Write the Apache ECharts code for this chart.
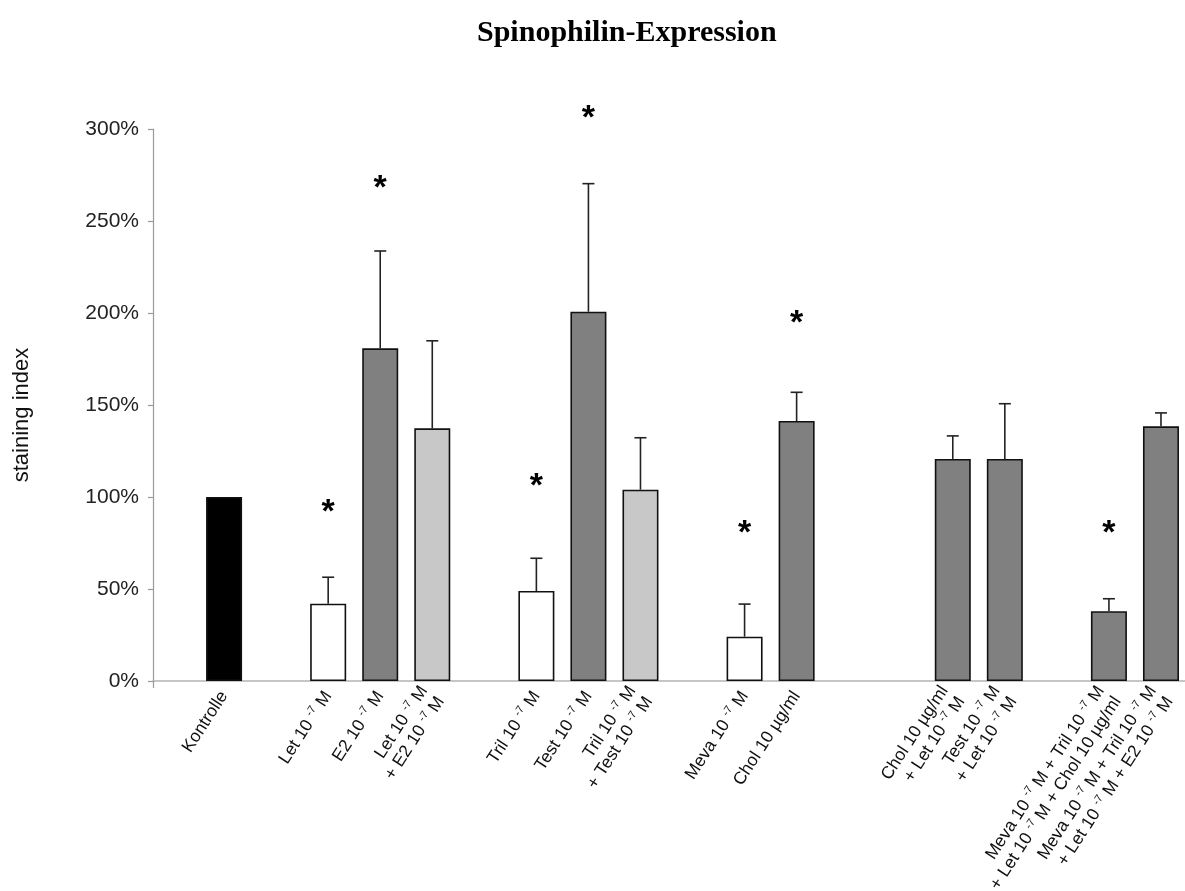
<!DOCTYPE html>
<html>
<head>
<meta charset="utf-8">
<script src="https://cdn.jsdelivr.net/npm/echarts@6/dist/echarts.min.js"></script>
<style>html,body{margin:0;padding:0;background:#fff}#c{width:1185px;height:891px}</style>
</head>
<body>
<div id="c"></div>
<script>
const categories = ['', 'Kontrolle', '', 'Let 10 ^-7 M', 'E2 10 ^-7 M', 'Let 10 ^-7 M\n+ E2 10 ^-7 M', '',
  'Tril 10 ^-7 M', 'Test 10 ^-7 M', 'Tril 10 ^-7 M\n+ Test 10 ^-7 M', '', 'Meva 10 ^-7 M', 'Chol 10 µg/ml', '', '',
  'Chol 10 µg/ml\n+ Let 10 ^-7 M', 'Test 10 ^-7 M\n+ Let 10 ^-7 M', '',
  'Meva 10 ^-7 M + Tril 10 ^-7 M\n+ Let 10 ^-7 M + Chol 10 µg/ml',
  'Meva 10 ^-7 M + Tril 10 ^-7 M\n+ Let 10 ^-7 M + E2 10 ^-7 M'];
const values = [null, 100, null, 42.0, 180.8, 137.3, null, 48.9, 200.7, 104.0, null, 24.1, 141.3, null, null, 120.7, 120.7, null, 37.9, 138.4];
const errorTop = [null, null, null, 56.4, 233.7, 184.9, null, 66.7, 270.3, 132.2, null, 41.8, 156.9, null, null, 133.2, 150.7, null, 44.7, 145.7];
const starY = [null, null, null, 94.6, 270.7, null, null, 109, 308.7, null, null, 83.5, 197.4, null, null, null, null, null, 83.2, null];
const fills = ['', '#000000', '', '#ffffff', '#808080', '#c8c8c8', '', '#ffffff', '#808080', '#c8c8c8', '', '#ffffff', '#808080', '', '', '#808080', '#808080', '', '#808080', '#808080'];
const yTicks = [0, 50, 100, 150, 200, 250, 300];

const chart = echarts.init(document.getElementById('c'));
const gridTop = 129, gridBottom = 210;

chart.setOption({
  animation: false,
  backgroundColor: '#ffffff',
  title: {
    text: 'Spinophilin-Expression',
    left: 472, top: 13,
    textStyle: { fontFamily: 'Liberation Serif', fontWeight: 'bold', fontSize: 30, color: '#000' }
  },
  grid: [
    { left: 146, right: -2, top: gridTop, bottom: gridBottom, containLabel: false, outerBoundsMode: 'none' },
    { left: 153, right: -2, top: gridTop, bottom: gridBottom, containLabel: false, outerBoundsMode: 'none' }
  ],
  xAxis: [
    {
      type: 'category', gridIndex: 0, data: categories,
      axisLine: { show: false }, axisTick: { show: false },
      axisLabel: {
        interval: 0, rotate: 57, margin: 12,
        fontFamily: 'Liberation Sans', fontSize: 17.5, color: '#111',
        formatter: function (v) {
          return v.split('\n').map(function (line) {
            return line.split('^-7').map(function (p) { return '{n|' + p + '}'; }).join('{sup|-7}');
          }).join('\n');
        },
        rich: {
          n: { fontFamily: 'Liberation Sans', fontSize: 17.5, color: '#111', lineHeight: 20 },
          sup: { fontFamily: 'Liberation Sans', fontSize: 11, color: '#111', verticalAlign: 'top', lineHeight: 20, padding: [0, 0, 8, 0] }
        }
      }
    },
    {
      type: 'value', gridIndex: 1, min: 0, max: 1, interval: 1,
      axisLine: { show: true, lineStyle: { color: '#b4b4b4', width: 1.5 } },
      axisTick: { show: true, length: 7, lineStyle: { color: '#9a9a9a', width: 1.2 } },
      axisLabel: { show: false }, splitLine: { show: false }
    }
  ],
  yAxis: [
    { type: 'value', gridIndex: 0, min: 0, max: 300, interval: 50, show: false },
    {
      type: 'value', gridIndex: 1, min: 0, max: 300, interval: 50,
      name: 'staining index', nameLocation: 'middle', nameRotate: 90, nameGap: 120,
      nameTextStyle: { fontFamily: 'Liberation Sans', fontSize: 22, color: '#111', padding: [0, 20, 0, 0] },
      axisLine: { show: true, lineStyle: { color: '#9a9a9a', width: 1.2 } },
      axisTick: { show: true, inside: false, length: 5, lineStyle: { color: '#9a9a9a', width: 1.2 } },
      splitLine: { show: false },
      axisLabel: {
        margin: 14, fontFamily: 'Liberation Sans', fontSize: 21, color: '#222',
        formatter: function (v) { return yTicks.indexOf(v) >= 0 ? v + '%' : ''; }
      }
    }
  ],
  series: [
    {
      type: 'bar', xAxisIndex: 0, yAxisIndex: 0, barWidth: 36,
      data: values.map(function (v, i) {
        return { value: v, itemStyle: { color: fills[i] || '#808080', borderColor: '#111', borderWidth: 1.6 } };
      })
    },
    {
      type: 'custom', xAxisIndex: 0, yAxisIndex: 0, z: 3,
      data: errorTop.map(function (t, i) { return [i, values[i], t]; }),
      renderItem: function (params, api) {
        const t = api.value(2);
        if (t === null || t === undefined || isNaN(t)) return null;
        const p0 = api.coord([api.value(0), api.value(1)]);
        const p1 = api.coord([api.value(0), t]);
        const st = { stroke: '#222', lineWidth: 1.6 };
        return {
          type: 'group',
          children: [
            { type: 'line', shape: { x1: p0[0], y1: p0[1], x2: p1[0], y2: p1[1] }, style: st },
            { type: 'line', shape: { x1: p1[0] - 6, y1: p1[1], x2: p1[0] + 6, y2: p1[1] }, style: st }
          ]
        };
      }
    },
    {
      type: 'custom', xAxisIndex: 0, yAxisIndex: 0, z: 4, clip: false,
      data: starY.map(function (s, i) { return [i, s]; }),
      renderItem: function (params, api) {
        const s = api.value(1);
        if (s === null || s === undefined || isNaN(s)) return null;
        const p = api.coord([api.value(0), s]);
        return {
          type: 'text',
          style: { x: p[0], y: p[1] + 6, text: '*', fill: '#000', font: 'bold 34px "Liberation Sans"', textAlign: 'center', textVerticalAlign: 'middle' }
        };
      }
    }
  ]
});
</script>
</body>
</html>
